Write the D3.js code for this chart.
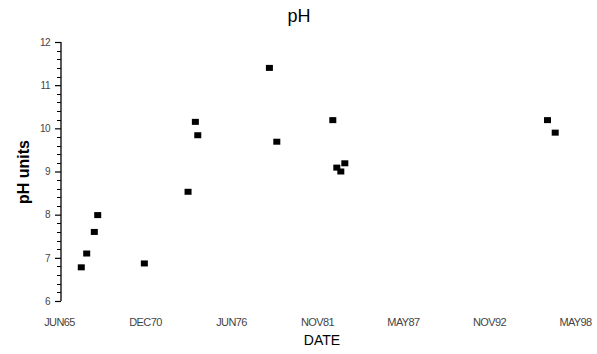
<!DOCTYPE html>
<html><head><meta charset="utf-8">
<script src="https://cdn.jsdelivr.net/npm/d3@7"></script>
<style>body{margin:0;background:#fff}svg{display:block}</style>
</head><body>
<div id="chart"></div>
<script>
const sampleDates = ["1966-11-28","1967-04-03","1967-09-27","1967-12-15","1970-12-03","1973-09-14","1974-03-03","1974-04-28","1978-11-18","1979-05-09","1982-12-01","1983-03-04","1983-06-05","1983-09-06","1996-07-31","1997-01-26"];
const phValues = [6.78,7.10,7.60,7.99,6.87,8.53,10.15,9.84,11.40,9.69,10.19,9.09,9.00,9.19,10.19,9.90];
const xTickDates = ["1965-06-28","1970-12-18","1976-06-09","1981-11-29","1987-05-20","1992-11-09","1998-05-01"];
const xTickLabels = ["JUN65","DEC70","JUN76","NOV81","MAY87","NOV92","MAY98"];
const yTicks = [6,7,8,9,10,11,12];

const W = 597, H = 354;
const parse = d3.timeParse("%Y-%m-%d");
const svg = d3.select("#chart").append("svg").attr("width", W).attr("height", H);

const x = d3.scaleTime().domain([parse(xTickDates[0]), parse(xTickDates[6])]).range([59, 575]);
const y = d3.scaleLinear().domain([6, 12]).range([301, 42]);
const axisX = 61;

// title
svg.append("text").attr("x", 299).attr("y", 22).attr("text-anchor", "middle")
  .attr("font-family", "Liberation Sans, Arial, sans-serif").attr("font-size", 18).text("pH");

// y axis
const yAxis = d3.axisLeft(y).tickValues(yTicks).tickSize(6).tickPadding(5).tickFormat(d3.format("d"));
const gy = svg.append("g").attr("transform", `translate(${axisX},0)`).call(yAxis);
gy.select(".domain").attr("stroke", "#000").attr("stroke-width", 1.3).attr("d", `M0,${y(12)}V${y(6)}`);
gy.selectAll(".tick line").attr("stroke", "#000").attr("stroke-width", 1.2);
gy.selectAll(".tick text").attr("font-family", "Liberation Sans, Arial, sans-serif")
  .attr("font-size", 10).attr("fill", "#444").attr("letter-spacing", -0.5);
// minor ticks
const minor = d3.range(6, 12, 0.2).filter(v => Math.abs(v - Math.round(v)) > 0.01);
svg.append("g").selectAll("line").data(minor).join("line")
  .attr("x1", axisX - 4).attr("x2", axisX)
  .attr("y1", d => Math.round(y(d)) + 0.5).attr("y2", d => Math.round(y(d)) + 0.5)
  .attr("stroke", "#000").attr("stroke-width", 1);

// x axis labels (no axis line)
const xAxis = d3.axisBottom(x).tickValues(xTickDates.map(parse)).tickSize(0).tickPadding(0)
  .tickFormat((d, i) => xTickLabels[i]);
const gx = svg.append("g").attr("transform", "translate(0,318)").call(xAxis);
gx.select(".domain").remove();
gx.selectAll(".tick text").attr("font-family", "Liberation Sans, Arial, sans-serif")
  .attr("font-size", 11).attr("fill", "#444").attr("letter-spacing", -0.6);

// axis titles
svg.append("text").attr("x", 322).attr("y", 345).attr("text-anchor", "middle")
  .attr("font-family", "Liberation Sans, Arial, sans-serif").attr("font-size", 14).text("DATE");
svg.append("text").attr("transform", "translate(29,172) rotate(-90)").attr("text-anchor", "middle")
  .attr("font-family", "Liberation Sans, Arial, sans-serif").attr("font-size", 16).attr("font-weight", "bold")
  .text("pH units");

// points
const pts = sampleDates.map((d, i) => ({date: parse(d), v: phValues[i]}));
svg.append("g").selectAll("rect").data(pts).join("rect")
  .attr("x", d => x(d.date) - 3.5).attr("y", d => y(d.v) - 3)
  .attr("width", 7).attr("height", 6).attr("fill", "#000");
</script>
</body></html>
